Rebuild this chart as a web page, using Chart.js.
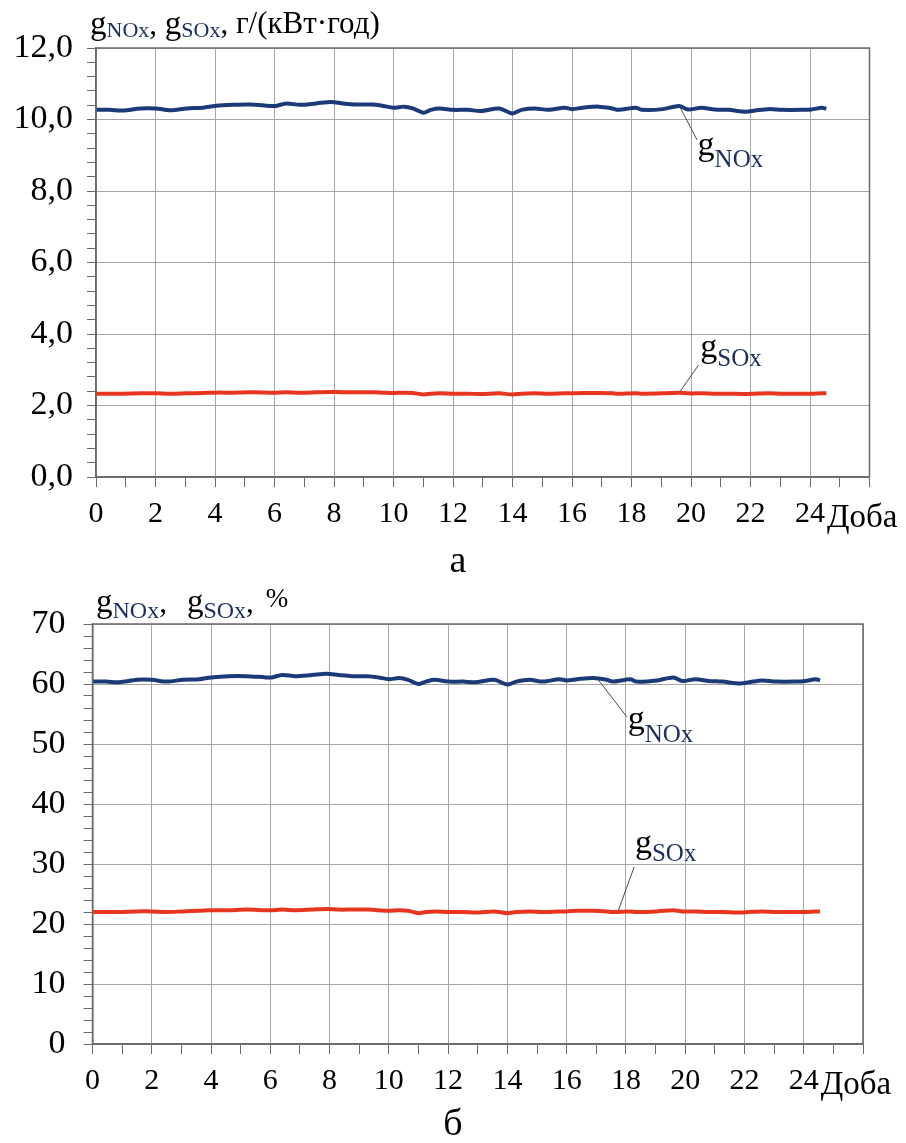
<!DOCTYPE html>
<html><head><meta charset="utf-8">
<script src="https://cdn.jsdelivr.net/npm/chart.js@4.4.1/dist/chart.umd.min.js"></script>
<style>
html,body{margin:0;padding:0;background:#fff;}
#wrap{position:relative;width:906px;height:1143px;background:#fff;}
canvas{position:absolute;left:0;}
#ca{top:0}
#cb{top:575px}
</style></head><body>
<div id="wrap"><canvas id="ca" width="906" height="580"></canvas><canvas id="cb" width="906" height="568"></canvas></div>
<script>
// ---- data ----
const days = [0,0.45,0.9,1.5,2,2.5,3.05,3.6,4,4.6,5.2,5.85,6.05,6.4,6.85,7.4,7.9,8.3,8.75,9.3,9.65,10,10.35,10.65,11,11.25,11.55,12,12.5,12.95,13.55,14,14.3,14.75,15.2,15.75,16,16.35,16.9,17.35,17.55,18.15,18.35,19.05,19.6,19.9,20.35,20.8,21.25,21.85,22.15,22.6,23.05,23.75,24.05,24.4,24.55];
const noxGkWh = [10.27,10.27,10.25,10.31,10.31,10.26,10.31,10.33,10.38,10.41,10.42,10.38,10.38,10.45,10.41,10.45,10.49,10.45,10.42,10.42,10.38,10.33,10.36,10.31,10.19,10.27,10.31,10.27,10.27,10.24,10.31,10.17,10.27,10.31,10.27,10.33,10.29,10.33,10.36,10.31,10.27,10.33,10.27,10.29,10.38,10.28,10.33,10.28,10.27,10.22,10.25,10.29,10.27,10.27,10.28,10.33,10.30];
const soxGkWh = [2.33,2.33,2.33,2.34,2.34,2.33,2.34,2.35,2.36,2.36,2.37,2.36,2.36,2.37,2.36,2.37,2.38,2.37,2.37,2.37,2.36,2.35,2.36,2.35,2.31,2.33,2.34,2.33,2.33,2.32,2.34,2.31,2.33,2.34,2.33,2.34,2.34,2.35,2.35,2.34,2.33,2.34,2.33,2.34,2.36,2.34,2.34,2.33,2.33,2.32,2.33,2.34,2.33,2.33,2.33,2.34,2.34];
const noxPct = [60.4,60.4,60.3,60.7,60.7,60.4,60.7,60.8,61.1,61.3,61.3,61.1,61.1,61.5,61.3,61.5,61.7,61.5,61.3,61.3,61.1,60.8,61.0,60.7,60.0,60.4,60.7,60.4,60.4,60.3,60.7,59.9,60.4,60.7,60.4,60.8,60.6,60.8,61.0,60.7,60.4,60.8,60.4,60.6,61.1,60.5,60.8,60.5,60.4,60.1,60.3,60.6,60.4,60.4,60.5,60.8,60.6];
const soxPct = [22.0,22.0,22.0,22.1,22.1,22.0,22.1,22.2,22.3,22.3,22.4,22.3,22.3,22.4,22.3,22.4,22.5,22.4,22.4,22.4,22.3,22.2,22.3,22.2,21.8,22.0,22.1,22.0,22.0,21.9,22.1,21.8,22.0,22.1,22.0,22.1,22.1,22.2,22.2,22.1,22.0,22.1,22.0,22.1,22.3,22.1,22.1,22.0,22.0,21.9,22.0,22.1,22.0,22.0,22.0,22.1,22.1];
const xMax = 26;
const xLastLabel = 24;
const xEndLabel = 'Доба';
const seriesNames = ['NOx','SOx'];

// ---- styles ----
const SERIF = '"Liberation Serif", "Times New Roman", serif';
const NAVY = '#1b3a78', RED = '#e83520', GRID = '#a6a6a6', AXIS = '#6a6a6a', SUBC = '#1a2f5e';

function isMult(v, m){ return Math.abs(v/m - Math.round(v/m)) < 1e-6; }

// draws a run of text pieces one after another
function drawFlow(ctx, x0, segs){
  ctx.save();
  ctx.textAlign = 'left'; ctx.textBaseline = 'alphabetic';
  let x = x0;
  segs.forEach(s => {
    ctx.font = s.size + 'px ' + SERIF;
    ctx.fillStyle = s.color || '#000';
    x += (s.gap || 0);
    ctx.fillText(s.t, x, s.y);
    x += ctx.measureText(s.t).width;
  });
  ctx.restore();
}

function build(id, o){
  const pts = arr => days.map((d,i) => ({x:d, y:arr[i]}));
  const decor = {
    id: 'decor' + id,
    afterDraw(chart){
      const ctx = chart.ctx, a = chart.chartArea;
      const xs = chart.scales.x, ys = chart.scales.y;
      ctx.save();
      ctx.strokeStyle = AXIS; ctx.lineWidth = 1.5;
      ctx.strokeRect(a.left, a.top, a.right - a.left, a.bottom - a.top);
      ctx.restore();
      drawFlow(ctx, o.titleX, o.title);
      // axis end word
      ctx.save();
      ctx.font = '33px ' + SERIF; ctx.fillStyle = '#000';
      ctx.textAlign = 'left'; ctx.textBaseline = 'alphabetic';
      ctx.fillText(xEndLabel, xs.getPixelForValue(xLastLabel) + 17, a.bottom + 50);
      ctx.restore();
      // annotations with leader lines
      o.notes.forEach(n => {
        const px = xs.getPixelForValue(n.x), py = ys.getPixelForValue(n.y);
        const ex = px + n.dx, ey = py + n.dy;
        ctx.save();
        ctx.strokeStyle = '#4a4a4a'; ctx.lineWidth = 1;
        ctx.beginPath(); ctx.moveTo(px, py); ctx.lineTo(ex, ey); ctx.stroke();
        ctx.restore();
        drawFlow(ctx, ex + n.gx, [
          {t:'g', size:34, y:ey + n.gy},
          {t:n.name, size:25, y:ey + n.sy, color:SUBC}
        ]);
      });
      ctx.save();
      ctx.font = '38px ' + SERIF; ctx.fillStyle = '#000';
      ctx.textAlign = 'center'; ctx.textBaseline = 'alphabetic';
      ctx.fillText(o.caption, o.capX, o.capY);
      ctx.restore();
    }
  };
  return new Chart(document.getElementById(id), {
    type: 'line',
    data: { datasets: [
      {label:'g' + seriesNames[0], data:pts(o.nox), borderColor:NAVY, borderWidth:4, pointRadius:0, tension:0.3, fill:false},
      {label:'g' + seriesNames[1], data:pts(o.sox), borderColor:RED, borderWidth:4, pointRadius:0, tension:0.3, fill:false}
    ]},
    options: {
      responsive:false, animation:false, devicePixelRatio:1,
      layout:{padding:{top:o.top, right:o.right, left:0, bottom:0}},
      plugins:{legend:{display:false}, tooltip:{enabled:false}, title:{display:false}},
      scales:{
        x:{
          type:'linear', min:0, max:xMax,
          afterBuildTicks: ax => { const t=[]; for(let i=0;i<=xMax;i++) t.push({value:i}); ax.ticks=t; },
          ticks:{autoSkip:false, maxRotation:0, minRotation:0, padding:9, color:'#000',
            font:{family:SERIF, size:30},
            callback: v => (v <= xLastLabel && isMult(v,2)) ? String(v) : ''},
          grid:{color: c => (c.tick && isMult(c.tick.value,2)) ? GRID : 'rgba(0,0,0,0)', tickColor:AXIS, tickLength:10, lineWidth:1},
          border:{display:true, color:AXIS, width:1.5},
          afterFit: s => { s.height = o.xh; }
        },
        y:{
          min:0, max:o.ymax,
          afterBuildTicks: ax => { const t=[]; const n=Math.round(o.ymax/o.yminor); for(let i=0;i<=n;i++) t.push({value:Math.round(i*o.yminor*1000)/1000}); ax.ticks=t; },
          ticks:{autoSkip:false, padding:o.ypad, color:'#000', font:{family:SERIF, size:34},
            callback: v => isMult(v, o.ymajor) ? o.fmt(v) : ''},
          grid:{color: c => (c.tick && isMult(c.tick.value, o.ymajor)) ? GRID : 'rgba(0,0,0,0)', tickColor:AXIS, tickLength:9, lineWidth:1},
          border:{display:true, color:AXIS, width:1.5},
          afterFit: s => { s.width = o.left; }
        }
      }
    },
    plugins:[decor]
  });
}

build('ca', {
  nox:noxGkWh, sox:soxGkWh, ymax:12, yminor:0.4, ymajor:2,
  fmt: v => v.toFixed(1).replace('.', ','),
  top:48, right:36.5, left:96, xh:103, ypad:14,
  titleX:90,
  title:[
    {t:'g', size:33, y:34},
    {t:'NOx', size:22, y:37, color:SUBC},
    {t:', ', size:31, y:34},
    {t:'g', size:33, y:34},
    {t:'SOx', size:22, y:37, color:SUBC},
    {t:', г/(кВт·год)', size:31, y:33}
  ],
  notes:[
    {name:'NOx', x:19.62, y:10.36, dx:17.4, dy:33.3, gx:0.5, gy:15, sy:27},
    {name:'SOx', x:19.64, y:2.40, dx:18.3, dy:-26.2, gx:1.7, gy:-8, sy:1}
  ],
  caption:'а', capX:458, capY:572
});

build('cb', {
  nox:noxPct, sox:soxPct, ymax:70, yminor:2, ymajor:10,
  fmt: v => String(v),
  top:49, right:43, left:92.5, xh:99, ypad:18,
  titleX:96,
  title:[
    {t:'g', size:33, y:37},
    {t:'NOx', size:24, y:43, color:SUBC},
    {t:',', size:31, y:37},
    {t:'g', size:33, y:37, gap:20},
    {t:'SOx', size:24, y:43, color:SUBC},
    {t:',', size:31, y:37},
    {t:'%', size:27, y:32, gap:12}
  ],
  notes:[
    {name:'NOx', x:17.07, y:60.67, dx:28.4, dy:36.7, gx:1, gy:12.6, sy:25},
    {name:'SOx', x:17.74, y:22.2, dx:16, dy:-44, gx:0.7, gy:-13.7, sy:-6}
  ],
  caption:'б', capX:453, capY:560
});
</script>
</body></html>
